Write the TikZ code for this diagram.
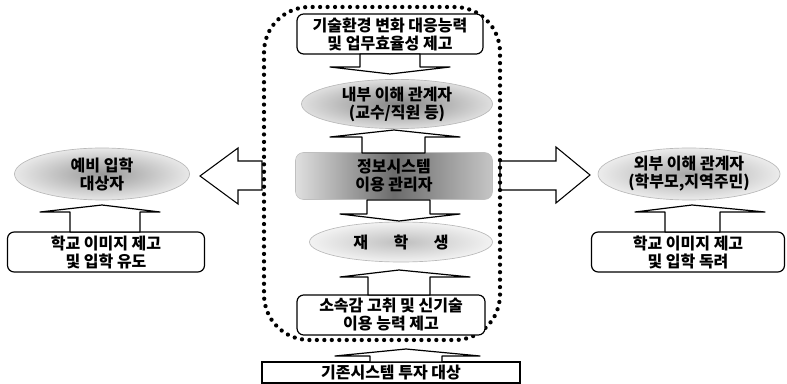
\documentclass[tikz,border=0pt]{standalone}
\usepackage{fontspec}
\newfontfamily\kr{Noto Sans CJK KR}
\usetikzlibrary{shapes.geometric,shadings}
\newcommand\myvarrow[8]{% shaft x1,x2, shaft far y, base y, head x1,x2, tip y, centre x
  \draw[blockarrow] (#1,#3) -- (#2,#3) -- (#2,#4) -- (#6,#4) -- (#8,#7) -- (#5,#4) -- (#1,#4) -- cycle;}
\begin{document}
\begin{tikzpicture}[x=0.75pt,y=-0.75pt,
  txt/.style={font=\kr\bfseries\fontsize{12}{13.5}\selectfont, align=center, text=black},
  rbox/.style={txt, draw=black, line width=0.9pt, rounded corners=5pt, fill=white, inner sep=0pt},
  ell/.style={txt, ellipse, inner sep=0pt, draw=gray!55, line width=0.5pt},
  blockarrow/.style={draw=black, line width=0.9pt, fill=white, line join=round},
  bigarrow/.style={draw=black, line width=0.8pt, fill=white},
  dotborder/.style={line width=3.2pt, dash pattern=on 0pt off 5.6pt, line cap=round, rounded corners=34pt}]
\useasboundingbox (0,0) rectangle (787,384);

% big hollow arrows
\draw[bigarrow] (262,161) -- (238,161) -- (238,148) -- (200,176) -- (238,204) -- (238,190) -- (262,190) -- cycle;
\draw[bigarrow] (500,161) -- (556,161) -- (556,147) -- (590,175) -- (556,203) -- (556,190) -- (500,190) -- cycle;

% dotted boundary
\draw[dotborder] (264,7) rectangle (500,340);

% central column
\node[rbox, minimum width=186*0.75pt, minimum height=40*0.75pt] (top) at (390,34) {기술환경 변화 대응능력\\및 업무효율성 제고};
\node[ell, minimum width=191*0.75pt, minimum height=44*0.75pt, inner color=gray!95, outer color=gray!25] (inner) at (397,104) {내부 이해 관계자\\(교수/직원 등)};
\node[txt, rounded corners=6pt, minimum width=197*0.75pt, minimum height=47*0.75pt, inner sep=0pt,
      left color=gray!25, right color=gray!45, middle color=black!58, draw=gray!50] (sys) at (394,176) {정보시스템\\이용 관리자};
\node[ell, minimum width=183*0.75pt, minimum height=40*0.75pt, inner color=gray!50, outer color=gray!10] (stud) at (401,242) {재\hspace{1.6em}학\hspace{1.6em}생};
\node[rbox, minimum width=188*0.75pt, minimum height=40*0.75pt] (belong) at (391,315) {소속감 고취 및 신기술\\이용 능력 제고};
\node[txt, draw=black, line width=0.9pt, fill=white, minimum width=258*0.75pt, minimum height=21*0.75pt, inner sep=0pt] (base) at (391,372.5) {기존시스템 투자 대상};

% central block arrows
\myvarrow{360}{420}{54}{67}{330}{450}{74}{390}
\myvarrow{362}{425}{153}{137}{330}{460}{130}{394}
\myvarrow{367}{430}{200}{214}{340}{460}{221}{399}
\myvarrow{368}{430}{295}{277}{340}{470}{270}{399}
\myvarrow{370}{442}{362}{356}{335}{480}{349}{406}

% left side
\node[ell, minimum width=175*0.75pt, minimum height=52*0.75pt, inner color=gray!80, outer color=gray!18] (pre) at (102,174) {예비 입학\\대상자};
\node[rbox, minimum width=197*0.75pt, minimum height=40*0.75pt] (lbox) at (106,252) {학교 이미지 제고\\및 입학 유도};
\myvarrow{70}{140}{232}{212}{40}{160}{205}{102}

% right side
\node[ell, minimum width=182*0.75pt, minimum height=52*0.75pt, inner color=gray!70, outer color=gray!15] (ext) at (689,174) {외부 이해 관계자\\(학부모,지역주민)};
\node[rbox, minimum width=193*0.75pt, minimum height=40*0.75pt] (rbox) at (688,252) {학교 이미지 제고\\및 입학 독려};
\myvarrow{665}{720}{232}{212}{635}{765}{205}{692}
\end{tikzpicture}
\end{document}
